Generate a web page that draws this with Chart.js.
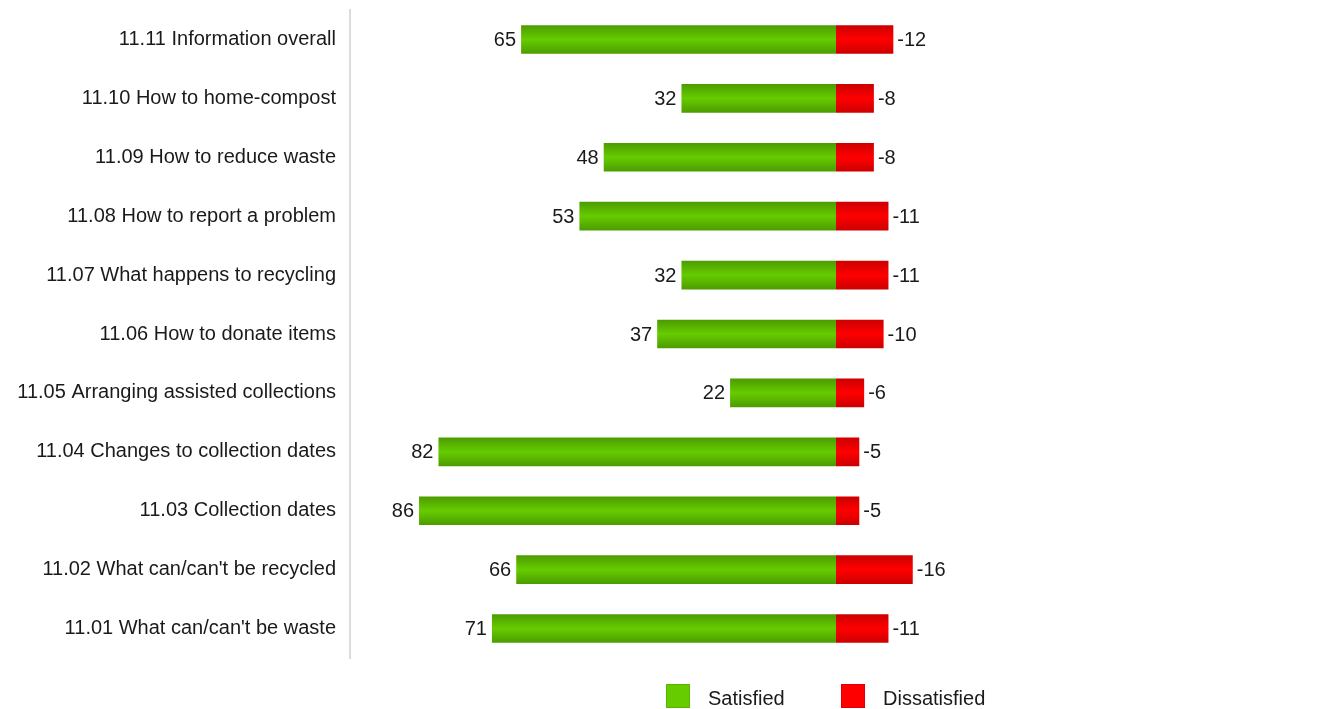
<!DOCTYPE html>
<html>
<head>
<meta charset="utf-8">
<script src="https://cdn.jsdelivr.net/npm/chart.js@4"></script>
<style>
  html, body { margin: 0; padding: 0; background: #fff; overflow: hidden; }
  #wrap { position: relative; width: 1322px; height: 709px; }
  #legend { position: absolute; left: 666px; top: 684px; display: flex;
    font: 20px 'Liberation Sans', Arial, sans-serif; color: #1a1a1a; }
  .item { display: flex; align-items: flex-start; width: 175px; }
  .box { width: 24px; height: 24px; box-sizing: border-box; border: 1px solid; }
  .txt { margin-left: 18px; line-height: 24px; position: relative; top: 2px; white-space: nowrap; }
</style>
</head>
<body>
<div id="wrap">
  <canvas id="myChart" width="1322" height="709"></canvas>
  <div id="legend"></div>
</div>
<script>
// data, top row first
const categories = [
  '11.11 Information overall',
  '11.10 How to home-compost',
  '11.09 How to reduce waste',
  '11.08 How to report a problem',
  '11.07 What happens to recycling',
  '11.06 How to donate items',
  '11.05 Arranging assisted collections',
  '11.04 Changes to collection dates',
  '11.03 Collection dates',
  '11.02 What can/can\'t be recycled',
  '11.01 What can/can\'t be waste'
];
const satisfied = [65, 32, 48, 53, 32, 37, 22, 82, 86, 66, 71];
const dissatisfied = [-12, -8, -8, -11, -11, -10, -6, -5, -5, -16, -11];

const font = "'Liberation Sans', Arial, sans-serif";

// vertical dark-light-dark shading on each bar
function shade(ctx, dark, light) {
  const chart = ctx.chart;
  const area = chart.chartArea;
  if (!area || ctx.dataIndex === undefined) return light;
  const mid = chart.scales.y.getPixelForValue(ctx.dataIndex);
  const half = (area.bottom - area.top) / categories.length * 0.26;
  const g = chart.ctx.createLinearGradient(0, mid - half, 0, mid + half);
  g.addColorStop(0, dark);
  g.addColorStop(0.5, light);
  g.addColorStop(1, dark);
  return g;
}

// numbers next to the bar ends
const barLabels = {
  id: 'barLabels',
  afterDatasetsDraw(chart) {
    const ctx = chart.ctx;
    ctx.save();
    ctx.font = '20px ' + font;
    ctx.fillStyle = '#1a1a1a';
    ctx.textBaseline = 'middle';
    chart.getDatasetMeta(0).data.forEach((bar, i) => {
      ctx.textAlign = 'right';
      ctx.fillText(String(satisfied[i]), bar.x - 4, bar.y + 1);
    });
    chart.getDatasetMeta(1).data.forEach((bar, i) => {
      ctx.textAlign = 'left';
      ctx.fillText(String(dissatisfied[i]), bar.x + 3, bar.y + 1);
    });
    ctx.restore();
  }
};

const dataBars = {
  labels: categories,
  datasets: [{
    label: 'Satisfied',
    data: satisfied.map(v => -v),
    backgroundColor: ctx => shade(ctx, '#4a9800', '#66cc00'),
    borderColor: 'rgba(255,255,255,0.45)',
    borderWidth: 1,
    legendColor: '#66cc00',
    legendBorder: '#5ab400'
  }, {
    label: 'Dissatisfied',
    data: dissatisfied.map(v => -v),
    backgroundColor: ctx => shade(ctx, '#c80000', '#ff0000'),
    borderColor: 'rgba(255,255,255,0.45)',
    borderWidth: 1,
    legendColor: '#ff0000',
    legendBorder: '#e00000'
  }]
};

const configBars = {
  type: 'bar',
  data: dataBars,
  options: {
    indexAxis: 'y',
    responsive: false,
    animation: false,
    events: [],
    layout: { padding: { top: 10, bottom: 51, left: 0, right: 0 } },
    datasets: { bar: { barPercentage: 0.52, categoryPercentage: 1 } },
    scales: {
      x: { display: false, stacked: true, min: -100, max: 100 },
      y: {
        stacked: true,
        grid: { display: false },
        border: { display: true, color: '#dcdcdc', width: 2 },
        ticks: { font: { family: font, size: 20 }, color: '#1a1a1a', padding: 6 },
        afterFit(scale) {
          scale.width = 350;
          scale.paddingTop = 0;
          scale.paddingBottom = 0;
        }
      }
    },
    plugins: { legend: { display: false }, tooltip: { enabled: false } }
  },
  plugins: [barLabels]
};

const myChart = new Chart(document.getElementById('myChart'), configBars);

// html legend built from the datasets
const legendEl = document.getElementById('legend');
myChart.data.datasets.forEach(ds => {
  const item = document.createElement('div');
  item.className = 'item';
  const box = document.createElement('span');
  box.className = 'box';
  box.style.background = ds.legendColor;
  box.style.borderColor = ds.legendBorder;
  const txt = document.createElement('span');
  txt.className = 'txt';
  txt.textContent = ds.label;
  item.appendChild(box);
  item.appendChild(txt);
  legendEl.appendChild(item);
});
</script>
</body>
</html>
